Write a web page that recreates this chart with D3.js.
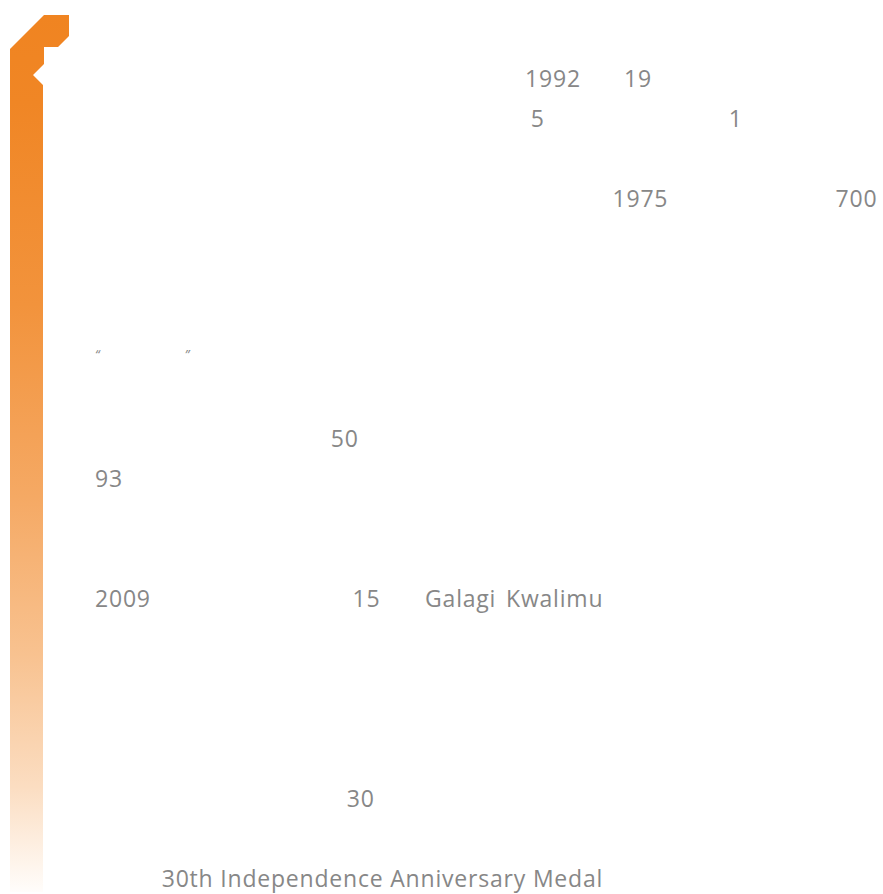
<!DOCTYPE html>
<html>
<head>
<meta charset="utf-8">
<script src="https://cdn.jsdelivr.net/npm/d3@7"></script>
<style>
  html, body { margin: 0; padding: 0; background: #ffffff; }
  svg { display: block; }
</style>
</head>
<body>
<svg id="chart" width="883" height="894"></svg>
<script>
// ---- data: visible text fragments (line index, column in em units) ----
const fragmentText = ["1992", "19", "5", "1", "1975", "700", "\u201C", "\u201D", "50", "93", "2009", "15", "Galagi Kwalimu", "30", "30th Independence Anniversary Medal"];
const fragmentLine = [0, 0, 1, 1, 3, 3, 7, 7, 9, 10, 13, 13, 13, 18, 20];
const fragmentColumn = [18.7, 23.0, 18.95, 27.55, 22.5, 32.2, 0.0, 3.9, 10.25, 0.0, 0.0, 11.2, 14.35, 10.95, 2.9];
const gradientOffsets = [0, 0.1, 0.33, 0.55, 0.73, 0.88, 1];
const gradientMix = [0, 0.02, 0.12, 0.3, 0.5, 0.72, 0.98];

const svg = d3.select("#chart");
const fontSize = 23;

// scales
const y = d3.scaleLinear().domain([0, 20]).range([87, 887]);
const x = d3.scaleLinear().domain([0, 1]).range([95, 95 + fontSize]);

// gradient for the side bar
const defs = svg.append("defs");
const grad = defs.append("linearGradient")
  .attr("id", "barGrad")
  .attr("gradientUnits", "userSpaceOnUse")
  .attr("x1", 0).attr("y1", 15).attr("x2", 0).attr("y2", 892);
const mix = d3.interpolateRgb("#F08421", "#FFFFFF");
grad.selectAll("stop").data(gradientOffsets).join("stop")
  .attr("offset", d => d)
  .attr("stop-color", (d, i) => mix(gradientMix[i]));

// decorative bracket bar
const barPath = d3.path();
barPath.moveTo(10, 49);
barPath.lineTo(44, 15);
barPath.lineTo(69, 15);
barPath.lineTo(69, 36);
barPath.lineTo(58, 47);
barPath.lineTo(44, 47);
barPath.lineTo(44, 64);
barPath.lineTo(33, 75);
barPath.lineTo(43, 85);
barPath.lineTo(43, 892);
barPath.lineTo(10, 892);
barPath.closePath();
svg.append("path").attr("d", barPath.toString()).attr("fill", "url(#barGrad)");

// text fragments
const isQuote = t => t === "\u201C" || t === "\u201D";
const frags = fragmentText.map((t, i) => ({ t, line: fragmentLine[i], col: fragmentColumn[i] }));
svg.append("g").selectAll("text").data(frags).join("text")
  .attr("x", d => x(d.col))
  .attr("y", d => y(d.line))
  .attr("fill", "#878787")
  .attr("font-family", "'Open Sans', 'Noto Sans', sans-serif")
  .attr("font-size", d => isQuote(d.t) ? 13 : fontSize)
  .attr("font-style", d => isQuote(d.t) ? "italic" : "normal")
  .attr("letter-spacing", d => isQuote(d.t) ? 0 : 0.8)
  .attr("word-spacing", d => d.t === "Galagi Kwalimu" ? 3 : 0)
  .attr("dy", d => isQuote(d.t) ? -8 : 0)
  .text(d => d.t);
</script>
</body>
</html>
